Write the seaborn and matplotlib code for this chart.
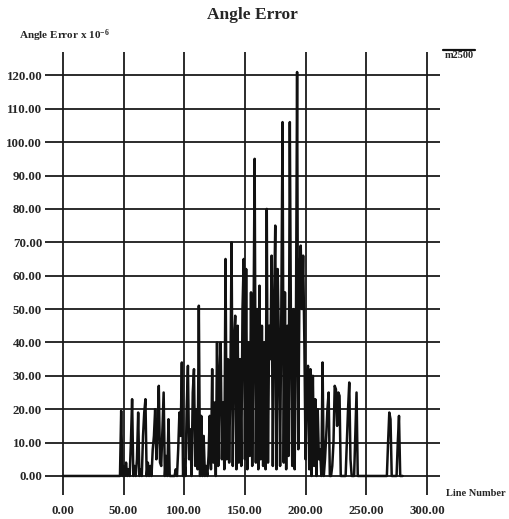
import numpy as np
import pandas as pd
import matplotlib
matplotlib.use("Agg")
import matplotlib.pyplot as plt
from matplotlib.lines import Line2D
import seaborn as sns

# ---- data ----
line_number = [0] + list(range(47, 244)) + list(range(267, 281))
angle_error = [0,
    0, 19.5, 0, 3, 0, 4, 0, 2, 0, 10,
    23, 0, 3, 0, 5, 19, 0, 2, 0, 12,
    19, 23, 0, 4, 0, 3, 0, 8, 12, 20,
    5, 14, 27, 4, 3, 14, 25, 0, 6, 0,
    17, 0, 0, 0, 0, 0, 2, 0, 8, 19,
    12, 34, 0, 5, 0, 20, 33, 5, 14, 0,
    25, 32, 3, 20, 2, 51, 0, 18, 0, 12,
    0, 3, 0, 6, 18, 2, 32, 4, 22, 0,
    40, 3, 30, 40, 5, 22, 2, 65, 5, 35,
    4, 28, 70, 3, 40, 48, 2, 45, 4, 35,
    3, 50, 65, 5, 62, 2, 40, 6, 55, 3,
    40, 95, 4, 50, 2, 57, 5, 45, 3, 40,
    2, 80, 4, 45, 35, 66, 3, 50, 75, 2,
    62, 40, 3, 50, 106, 4, 55, 2, 45, 6,
    106, 40, 3, 50, 2, 40, 121, 8, 60, 69,
    50, 66, 40, 5, 30, 33, 2, 32, 0, 30,
    3, 23, 0, 20, 5, 8, 0, 34, 0, 5,
    12, 20, 25, 0, 0, 3, 10, 27, 26, 15,
    25, 24, 0, 0, 0, 0, 0, 10, 20, 28,
    5, 0, 0, 0, 12, 25, 0,
    0, 10, 19, 17, 0, 0, 0, 0, 0, 10, 18, 0, 0, 0]
x_ticks = [0, 50, 100, 150, 200, 250, 300]
y_ticks = [0, 10, 20, 30, 40, 50, 60, 70, 80, 90, 100, 110, 120]
series_name = "m2500"

df = pd.DataFrame({"Line Number": line_number, "Angle Error": angle_error})

sns.set_style("white")
plt.rcParams["font.family"] = ["Liberation Serif", "DejaVu Serif"]
plt.rcParams["font.weight"] = "bold"
plt.rcParams["mathtext.fontset"] = "custom"
plt.rcParams["mathtext.rm"] = "Liberation Serif:bold"
plt.rcParams["mathtext.it"] = "Liberation Serif:bold"
plt.rcParams["mathtext.bf"] = "Liberation Serif:bold"
plt.rcParams["mathtext.default"] = "rm"

W, H = 509, 519
fig = plt.figure(figsize=(W / 100, H / 100), dpi=100)
left, right, top, bottom = 45, 440, 52, 495
ax = fig.add_axes([left / W, 1 - bottom / H, (right - left) / W, (bottom - top) / H])

sns.lineplot(data=df, x="Line Number", y="Angle Error", ax=ax, color="#111111",
             linewidth=1.8, estimator=None, sort=False)

ax.set_xlim(-14.8, 310.8)
ax.set_ylim(-5.7, 127)
ax.set_xticks(x_ticks)
ax.set_yticks(y_ticks)
ax.set_xticklabels([f"{v:.2f}" for v in x_ticks], fontsize=9.3, fontweight="bold")
ax.set_yticklabels([f"{v:.2f}" for v in y_ticks], fontsize=9.3, fontweight="bold")
ax.tick_params(axis="x", length=0, pad=7)
ax.tick_params(axis="y", length=0, pad=2)
ax.grid(True, color="#1a1a1a", linewidth=1.3)
ax.set_axisbelow(True)
for s in ax.spines.values():
    s.set_visible(False)
ax.set_xlabel("")
ax.set_ylabel("")

fig.text(252 / W, 1 - 15 / H, "Angle Error", ha="center", va="center",
         fontsize=12.5, fontweight="bold")
fig.text(19 / W, 1 - 36 / H, r"Angle Error x 10$^{-6}$", ha="left", va="center",
         fontsize=8, fontweight="bold")
fig.text(476 / W, 1 - 494 / H, "Line Number", ha="center", va="center",
         fontsize=7.5, fontweight="bold")
# legend
fig.add_artist(Line2D([443 / W, 475 / W], [1 - 50 / H, 1 - 50 / H], color="#111111",
                      linewidth=1.6, transform=fig.transFigure))
fig.text(459 / W, 1 - 56 / H, series_name, ha="center", va="center",
         fontsize=7.5, fontweight="bold")

fig.savefig("out.png", dpi=100)
